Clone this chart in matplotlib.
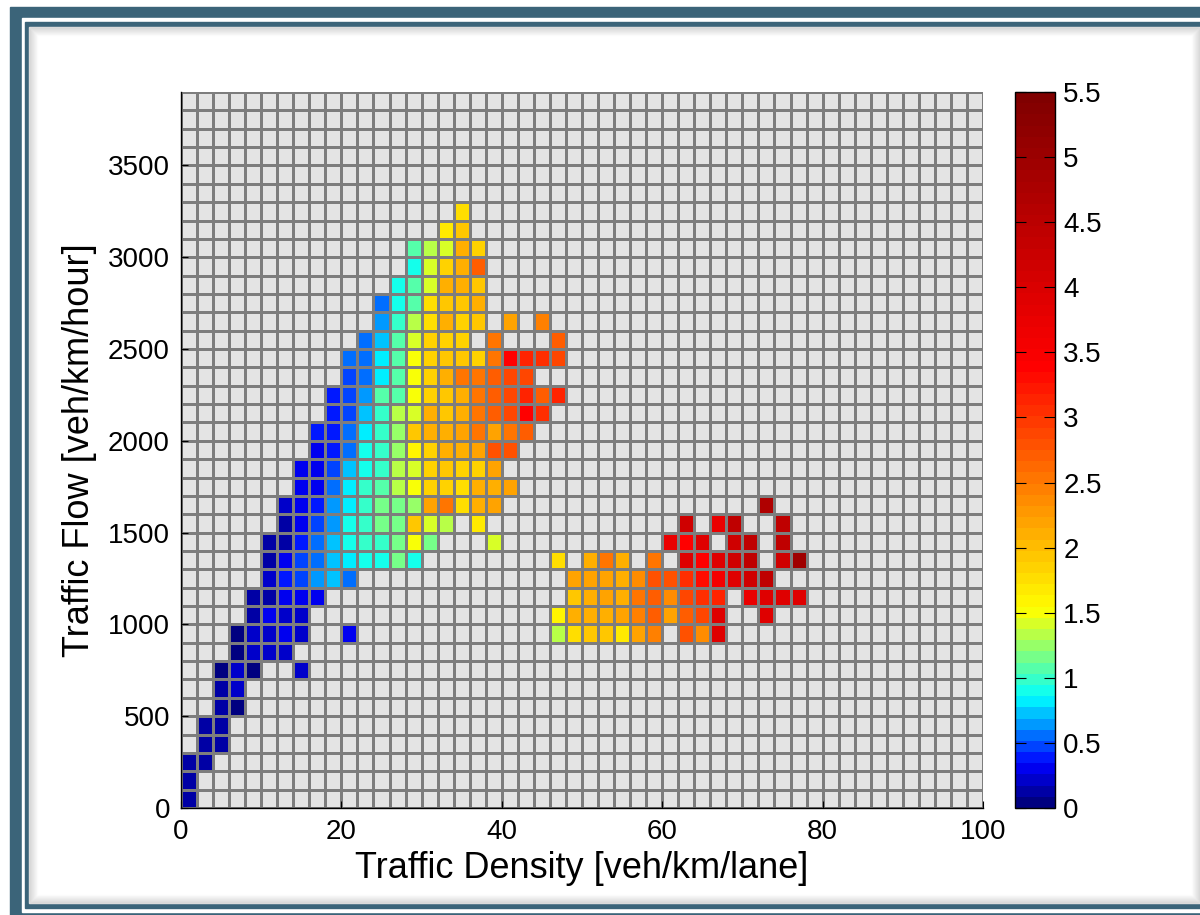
import numpy as np
import matplotlib.pyplot as plt
from matplotlib.colors import LinearSegmentedColormap
from matplotlib.patches import Rectangle
from matplotlib.ticker import FormatStrFormatter

plt.rcParams['font.family'] = ['Liberation Sans', 'DejaVu Sans']

# bins: density 2 veh/km/lane wide, flow 100 veh/km/hour tall
density_edges = np.arange(0, 101, 2)
flow_edges = np.arange(0, 3901, 100)

nan = np.nan

# free-flow branch: flow bin, first density bin, cell values along the row
free_rows = list(range(0, 33))
free_start = [0, 0, 0, 1, 1, 2, 2, 2, 3, 3, 4, 4, 5, 5, 5, 6, 6, 7, 7, 8, 8,
              9, 9, 10, 10, 11, 12, 12, 13, 14, 14, 16, 17]
free_values = [
    [0.1],
    [0.1],
    [0.1, 0.1],
    [0.1, 0.1],
    [0.1, 0.1],
    [0.1, 0.06],
    [0.1, 0.25],
    [0.08, 0.25, 0.08, nan, nan, 0.2],
    [0.08, 0.2, 0.18, 0.2],
    [0.08, 0.2, 0.2, 0.33, 0.18, nan, nan, 0.33],
    [0.12, 0.28, 0.25, 0.2],
    [0.12, 0.12, 0.3, 0.32, 0.3],
    [0.2, 0.4, 0.49, 0.66, 0.69, 0.59],
    [0.12, 0.3, 0.43, 0.59, 0.72, 0.82, 0.9, 0.93, 1.16, 0.9],
    [0.1, 0.12, 0.4, 0.59, 0.69, 0.9, 0.99, 0.99, 1.2, 1.5, 1.12, nan, nan, nan, 1.38],
    [0.12, 0.3, 0.49, 0.66, 0.88, 0.99, 1.16, 1.2, 1.97, 1.42, 1.29, nan, 1.65],
    [0.2, 0.3, 0.4, 0.66, 0.82, 0.99, 1.12, 1.2, 1.24, 2.2, 2.57, 1.73, 2.09, 2.21],
    [0.3, 0.3, 0.59, 0.82, 0.99, 1.07, 1.29, 1.5, 1.85, 1.85, 1.73, 2.09, 2.09, 2.21],
    [0.3, 0.3, 0.46, 0.69, 0.9, 0.99, 1.29, 1.38, 1.85, 1.97, 1.85, 1.85, 2.21],
    [0.3, 0.37, 0.59, 0.9, 1.03, 1.24, 1.6, 1.85, 2.09, 2.09, 2.21, 2.81, 2.81],
    [0.37, 0.38, 0.52, 0.82, 1.03, 1.24, 1.97, 2.09, 2.09, 2.21, 2.5, 2.21, 2.57, 2.69],
    [0.4, 0.49, 0.69, 1.03, 1.33, 1.42, 2.09, 1.97, 2.09, 2.57, 2.69, 2.92, 3.4, 3.04],
    [0.4, 0.49, 0.63, 1.07, 1.07, 1.5, 1.85, 1.97, 2.09, 2.57, 2.69, 2.92, 3.16, 2.69, 3.16],
    [0.49, 0.59, 0.82, 1.07, 1.5, 1.85, 2.09, 2.57, 2.57, 2.69, 2.92, 2.92],
    [0.52, 0.59, 0.82, 1.07, 1.5, 1.85, 1.97, 1.97, 1.85, 2.57, 3.4, 3.16, 3.04, 2.92],
    [0.56, 0.69, 1.07, 1.38, 1.85, 1.85, 1.85, nan, 2.57, nan, nan, nan, 2.69],
    [0.66, 0.99, 1.33, 1.73, 2.09, 1.85, 1.97, nan, 2.21, nan, 2.45],
    [0.59, 0.9, 1.07, 1.73, 1.9, 1.97, 2.09],
    [0.9, 1.07, 1.42, 2.09, 2.09, 1.97],
    [0.9, 1.38, 1.85, 2.09, 2.69],
    [1.07, 1.33, 1.42, 2.09, 1.85],
    [1.65, 1.97],
    [1.73],
]

# congested branch
cong_rows = [9, 10, 11, 12, 13, 14, 15, 16]
cong_start = [23, 23, 24, 24, 23, 30, 31, 36]
cong_values = [
    [1.29, 1.73, 1.97, 1.97, 1.65, 2.21, 2.45, nan, 2.81, 2.33, 3.93],
    [1.6, 2.09, 2.09, 2.09, 2.21, 2.45, 2.69, 2.21, 2.69, 2.92, 3.93, nan, nan, 3.93],
    [1.97, 2.09, 2.21, 2.09, 2.57, 2.69, 2.33, 2.92, 3.04, 3.16, nan, 3.7, 3.93, 3.93, 3.93],
    [2.21, 2.21, 2.21, 2.09, 2.33, 2.81, 2.81, 3.04, 3.28, 3.6, 3.93, 4.18, 4.45],
    [1.8, nan, 2.09, 2.57, 2.09, nan, 2.57, nan, 3.93, 3.4, 3.93, 4.18, 4.45, nan, 4.18, 4.96],
    [3.7, 3.4, 3.93, nan, 4.18, 4.45, nan, 4.45],
    [4.18, nan, 3.7, 4.45, nan, nan, 4.45],
    [4.7],
]

grid = np.full((len(flow_edges) - 1, len(density_edges) - 1), np.nan)
for rows, starts, values in [(free_rows, free_start, free_values),
                             (cong_rows, cong_start, cong_values)]:
    for r, s, vals in zip(rows, starts, values):
        grid[r, s:s + len(vals)] = vals
grid = np.ma.masked_invalid(grid)

vmax = 5.5
cmap = LinearSegmentedColormap.from_list('speed', [
    (0.0, (0, 0, 0.5)),
    (0.3 / vmax, (0, 0, 1)),
    (0.82 / vmax, (0, 1, 1)),
    (1.5 / vmax, (1, 1, 0)),
    (3.4 / vmax, (1, 0, 0)),
    (1.0, (0.5, 0, 0)),
], N=64)
cmap.set_bad('#e4e4e4')

W, H = 1200, 915
fig = plt.figure(figsize=(W / 100, H / 100), dpi=100)
fig.patch.set_facecolor('white')

# frame around the figure
bg = fig.add_axes([0, 0, 1, 1], zorder=-1)
bg.set_xlim(0, W)
bg.set_ylim(H, 0)
bg.axis('off')
teal = '#3b6479'
bg.add_patch(Rectangle((10, 7), 1300, 930, color=teal))
bg.add_patch(Rectangle((22, 18), 1300, 894, color='white'))
bg.add_patch(Rectangle((25, 22), 1300, 886, color=teal))
bg.add_patch(Rectangle((29, 27), 1171, 876, color='white'))
for i in range(9):
    a = 0.12 * (1 - i / 9)
    bg.add_patch(Rectangle((29 + i, 27 + i), 1171 - 2 * i, 876 - 2 * i,
                           fill=False, edgecolor='black', alpha=a, lw=1))

ax = fig.add_axes([181 / W, (H - 808) / H, 802 / W, 716 / H])
mesh = ax.pcolormesh(density_edges, flow_edges, grid, cmap=cmap, vmin=0, vmax=vmax,
                     edgecolors='#7d7d7d', linewidth=0.8)
ax.set_xlim(0, 100)
ax.set_ylim(0, 3900)
ax.set_xticks(np.arange(0, 101, 20))
ax.set_yticks(np.arange(0, 3501, 500))
ax.tick_params(direction='in', length=5, labelsize=20, pad=8)
for side in ['top', 'right']:
    ax.spines[side].set_visible(False)
for side in ['left', 'bottom']:
    ax.spines[side].set_linewidth(1.0)
ax.set_xlabel('Traffic Density [veh/km/lane]', fontsize=26, labelpad=4)
ax.set_ylabel('Traffic Flow [veh/km/hour]', fontsize=26, labelpad=8)

cax = fig.add_axes([1015 / W, (H - 808) / H, 40 / W, 716 / H])
cb = fig.colorbar(mesh, cax=cax, ticks=np.arange(0, 5.51, 0.5))
cb.ax.yaxis.set_major_formatter(FormatStrFormatter('%g'))
cb.ax.tick_params(direction='in', length=8, labelsize=20, left=True, right=True, pad=6)
cb.outline.set_linewidth(1.0)

fig.savefig('out.png', dpi=100)
